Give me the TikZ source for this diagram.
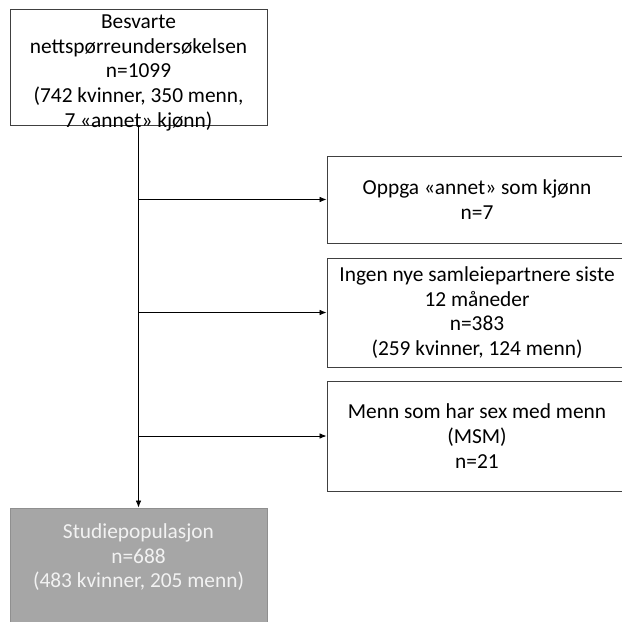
\documentclass[tikz,border=0pt]{standalone}
\usepackage{fontspec}
\setmainfont{Carlito}
\usetikzlibrary{arrows.meta}
\definecolor{boxline}{HTML}{404040}
\definecolor{studiefill}{HTML}{A6A6A6}
\definecolor{studieline}{HTML}{8F8F8F}
\tikzset{flowbox/.style={draw=boxline, rectangle, align=center, inner sep=0pt,
                         font=\fontsize{15.2}{17.6}\selectfont},
         excludebox/.style={flowbox, minimum width=7.5cm},
         flowarrow/.style={-{Latex[length=5pt,width=4pt]}, black}}

\begin{document}
\begin{tikzpicture}[x=0.025cm,y=-0.025cm,line width=0.6pt]
   \useasboundingbox (0,0) rectangle (622,622);
   \clip (0,0) rectangle (622,622);
   \node[flowbox, inner ysep=-4.5pt, minimum width=6.425cm, minimum height=2.9cm] (svar) at (138.5,67)
     {\rule{0pt}{18pt}Besvarte\\nettspørreundersøkelsen\\n=1099\\(742 kvinner, 350 menn,\\7 «annet» kjønn)};
   \node[excludebox, minimum height=2.175cm] (annet) at (477,199.5)
     {Oppga «annet» som kjønn\\n=7};
   \node[excludebox, minimum height=2.725cm] (ingen) at (477,312.5)
     {Ingen nye samleiepartnere siste\\12 måneder\\n=383\\(259 kvinner, 124 menn)};
   \node[excludebox, minimum height=2.75cm] (msm) at (477,436)
     {Menn som har sex med menn\\(MSM)\\n=21};
   \node[flowbox, draw=studieline, fill=studiefill, text=white!95!black,
         minimum width=6.425cm, minimum height=3.25cm] (studie) at (138.5,573)
     {Studiepopulasjon\\n=688\\(483 kvinner, 205 menn)\\[0.25cm]};
   \coordinate (b1) at (svar.south |- annet.west);
   \coordinate (b2) at (svar.south |- ingen.west);
   \coordinate (b3) at (svar.south |- msm.west);
   \draw[flowarrow] (svar.south) -- (studie.north);
   \draw[flowarrow] (b1) -- (annet.west);
   \draw[flowarrow] (b2) -- (ingen.west);
   \draw[flowarrow] (b3) -- (msm.west);
\end{tikzpicture}
\end{document}
